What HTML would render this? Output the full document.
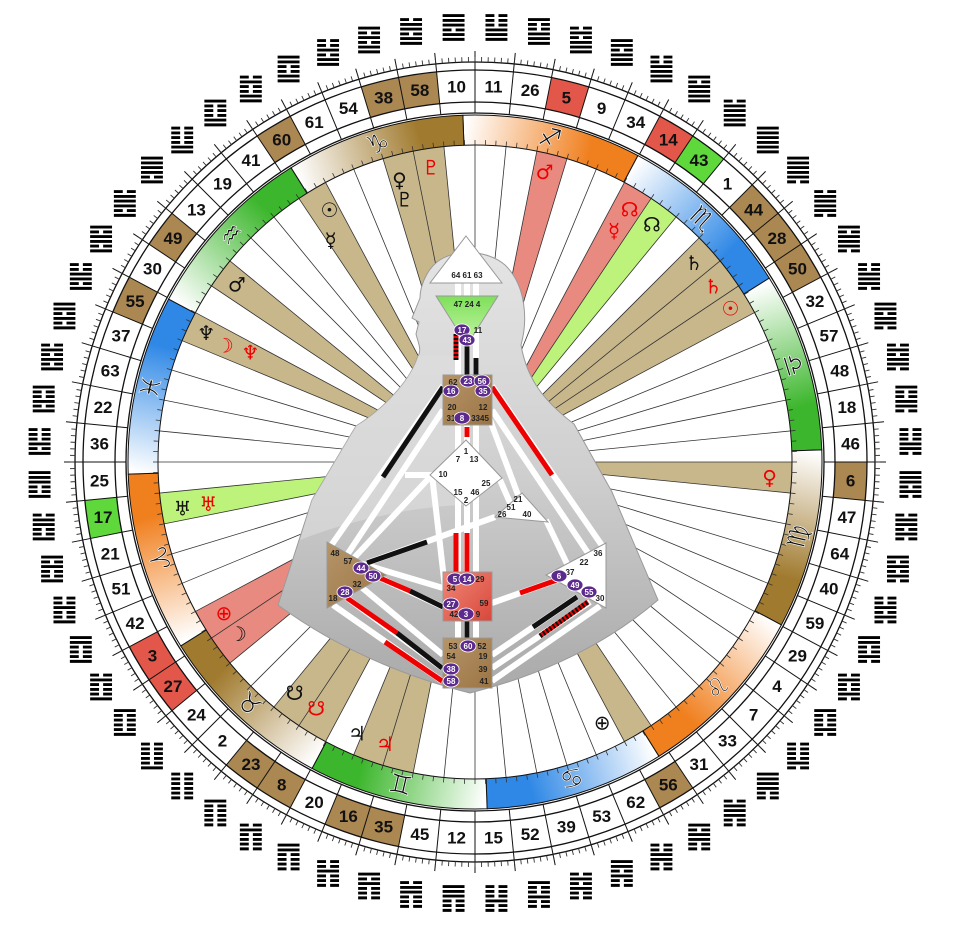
<!DOCTYPE html>
<html><head><meta charset="utf-8">
<style>
html,body{margin:0;padding:0;background:#fff;}
svg{display:block;}
text{font-family:"Liberation Sans","DejaVu Sans",sans-serif;}
.bt{font-size:8px;font-weight:bold;fill:#222;text-anchor:middle;}
.pt{font-size:8px;font-weight:bold;fill:#fff;text-anchor:middle;}
</style></head>
<body>
<svg id="s" width="953" height="939" viewBox="0 0 953 939" xmlns="http://www.w3.org/2000/svg">
<defs id="defs">
<linearGradient id="sil" x1="0" y1="0" x2="0" y2="1">
<stop offset="0" stop-color="#e4e4e4"/><stop offset="0.5" stop-color="#cfcfcf"/><stop offset="1" stop-color="#a9a9a9"/></linearGradient>
<linearGradient id="tanb" x1="0" y1="0" x2="1" y2="1"><stop offset="0" stop-color="#b59569"/><stop offset="1" stop-color="#9c7444"/></linearGradient>
<linearGradient id="redb" x1="0" y1="0" x2="1" y2="1"><stop offset="0" stop-color="#f08878"/><stop offset="1" stop-color="#d8473a"/></linearGradient>
<linearGradient id="grnb" x1="0" y1="0" x2="0" y2="1"><stop offset="0" stop-color="#7ee05a"/><stop offset="1" stop-color="#c8f5a8"/></linearGradient>
</defs>
<g id="ring"></g>
<g id="body">
<path d="M418,356 C410,382 382,410 356,426 L312,500 L278,605 Q360,665 470,693 Q582,665 658,600 L612,492 L574,424 C545,402 527,380 521,345 C528,320 526,285 505,265 C488,250 455,248 437,262 C425,272 420,288 420,298 L412,318 L419,322 L416,334 C418,342 422,350 418,356 Z" fill="url(#sil)" stroke="#9a9a9a" stroke-width="1"/>
<path d="M418,356 C410,382 382,410 356,426 L312,500 L300,540 C350,520 420,505 470,505 L470,356 Z" fill="#dedede" opacity="0.6"/>
<g stroke="#fff" stroke-width="6" fill="none">
<line x1="458" y1="283" x2="458" y2="298"/><line x1="467" y1="283" x2="467" y2="298"/><line x1="476" y1="283" x2="476" y2="298"/>
<line x1="458" y1="325" x2="458" y2="376"/><line x1="467" y1="340" x2="467" y2="376"/><line x1="476" y1="325" x2="476" y2="376"/>
<line x1="458" y1="424" x2="458" y2="462"/><line x1="467" y1="424" x2="467" y2="444"/><line x1="476" y1="424" x2="476" y2="462"/>
<line x1="458" y1="492" x2="458" y2="573"/><line x1="467" y1="503" x2="467" y2="573"/><line x1="476" y1="492" x2="476" y2="573"/>
<line x1="458" y1="620" x2="458" y2="639"/><line x1="467" y1="620" x2="467" y2="639"/><line x1="476" y1="620" x2="476" y2="639"/>
<line x1="443" y1="386" x2="330" y2="547"/><line x1="443" y1="410" x2="345" y2="558"/>
<line x1="492" y1="386" x2="603" y2="547"/><line x1="492" y1="410" x2="590" y2="556"/><line x1="490" y1="420" x2="518" y2="495"/>
<line x1="432" y1="475" x2="352" y2="560"/><line x1="432" y1="475" x2="445" y2="588"/><line x1="405" y1="475" x2="432" y2="475"/>
<line x1="495" y1="517" x2="367" y2="563"/><line x1="546" y1="520" x2="570" y2="570"/><line x1="500" y1="480" x2="511" y2="505"/>
<line x1="380" y1="578" x2="443" y2="607"/><line x1="360" y1="586" x2="443" y2="655"/><line x1="347" y1="598" x2="442" y2="668"/><line x1="333" y1="605" x2="442" y2="681"/><line x1="356" y1="562" x2="443" y2="588"/>
<line x1="492" y1="603" x2="557" y2="580"/><line x1="492" y1="655" x2="577" y2="597"/><line x1="492" y1="668" x2="590" y2="602"/><line x1="492" y1="681" x2="600" y2="606"/>
</g>
<g stroke-width="5" fill="none">
<line x1="456" y1="334" x2="456" y2="360" stroke="#e00"/><line x1="456" y1="334" x2="456" y2="360" stroke="#111" stroke-dasharray="2,2"/>
<line x1="467" y1="342" x2="467" y2="375" stroke="#111"/><line x1="476" y1="358" x2="476" y2="375" stroke="#111"/>
<line x1="467" y1="427" x2="467" y2="437" stroke="#e00"/>
<line x1="456" y1="533" x2="456" y2="572" stroke="#e00"/><line x1="467" y1="533" x2="467" y2="572" stroke="#e00"/>
<line x1="467" y1="621" x2="467" y2="638" stroke="#111"/>
<line x1="443" y1="387" x2="383" y2="477" stroke="#111"/>
<line x1="492" y1="387" x2="552" y2="475" stroke="#e00"/>
<line x1="427" y1="542" x2="367" y2="563" stroke="#111"/>
<line x1="380" y1="578" x2="410" y2="591" stroke="#e00"/><line x1="410" y1="591" x2="443" y2="607" stroke="#111"/>
<line x1="347" y1="598" x2="397" y2="633" stroke="#e00"/><line x1="397" y1="633" x2="442" y2="668" stroke="#111"/>
<line x1="385" y1="642" x2="442" y2="681" stroke="#e00"/>
<line x1="520" y1="593" x2="557" y2="580" stroke="#e00"/>
<line x1="533" y1="627" x2="577" y2="597" stroke="#111"/>
<line x1="540" y1="636" x2="588" y2="602" stroke="#e00"/><line x1="540" y1="636" x2="588" y2="602" stroke="#111" stroke-dasharray="2,2"/>
</g>
<polygon points="466,236 502,283 430,283" fill="#fff" stroke="#999"/>
<polygon points="436,296 498,296 467,345" fill="url(#grnb)" stroke="#999"/>
<rect x="443" y="375" width="49" height="50" fill="url(#tanb)" stroke="#999"/>
<polygon points="466,440 502,478 466,506 430,475" fill="#fff" stroke="#999"/>
<polygon points="495,517 522,493 548,522" fill="#fff" stroke="#999"/>
<rect x="443" y="572" width="49" height="49" fill="url(#redb)" stroke="#999"/>
<rect x="443" y="638" width="49" height="50" fill="url(#tanb)" stroke="#999"/>
<polygon points="327,542 386,575 327,608" fill="url(#tanb)" stroke="#999"/>
<polygon points="606,543 546,575 606,608" fill="#fff" stroke="#999"/>
<g class="bt">
<text x="467" y="278">64 61 63</text><text x="467" y="307">47 24 4</text><text x="478" y="333">11</text>
<text x="453" y="385">62</text><text x="452" y="410">20</text><text x="483" y="410">12</text><text x="451" y="421">31</text><text x="480" y="421">3345</text>
<text x="466" y="454">1</text><text x="458" y="462">7</text><text x="474" y="462">13</text><text x="443" y="477">10</text><text x="486" y="486">25</text><text x="458" y="495">15</text><text x="475" y="495">46</text><text x="466" y="503">2</text>
<text x="518" y="502">21</text><text x="511" y="510">51</text><text x="502" y="517">26</text><text x="527" y="517">40</text>
<text x="480" y="582">29</text><text x="451" y="591">34</text><text x="484" y="606">59</text><text x="454" y="617">42</text><text x="478" y="617">9</text>
<text x="453" y="649">53</text><text x="482" y="649">52</text><text x="451" y="659">54</text><text x="483" y="659">19</text><text x="483" y="672">39</text><text x="484" y="684">41</text>
<text x="335" y="556">48</text><text x="348" y="564">57</text><text x="357" y="587">32</text><text x="333" y="601">18</text>
<text x="598" y="556">36</text><text x="584" y="565">22</text><text x="570" y="575">37</text><text x="600" y="601">30</text>
</g>
<g id="pc"></g>
</g>
</svg>
<script>
(function(){
var NS="http://www.w3.org/2000/svg";
var cx=475,cy=462;
function P(r,a){var t=a*Math.PI/180;return [cx+r*Math.sin(t),cy-r*Math.cos(t)];}
function sector(r1,r2,a1,a2){var p1=P(r2,a1),p2=P(r2,a2),p3=P(r1,a2),p4=P(r1,a1);var l=(a2-a1)>180?1:0;
return "M"+p1[0]+","+p1[1]+"A"+r2+","+r2+" 0 "+l+" 1 "+p2[0]+","+p2[1]+"L"+p3[0]+","+p3[1]+"A"+r1+","+r1+" 0 "+l+" 0 "+p4[0]+","+p4[1]+"Z";}
var out=[];
function add(s){out.push(s);}
var gates=[11,26,5,9,34,14,43,1,44,28,50,32,57,48,18,46,6,47,64,40,59,29,4,7,33,31,56,62,53,39,52,15,12,45,35,16,20,8,23,2,24,27,3,42,51,21,17,25,36,22,63,37,55,30,49,13,19,41,60,61,54,38,58,10];
var W=5.625;
function ang(g){return 2.8125+gates.indexOf(g)*W;}
// wedges
var TAN="#c9b78c",RED="#e98a80",GRN="#bdf37a";
var wedges={58:TAN,38:TAN,60:TAN,49:TAN,55:TAN,17:GRN,27:RED,3:RED,8:TAN,23:TAN,16:TAN,35:TAN,56:TAN,6:TAN,50:TAN,28:TAN,44:TAN,43:GRN,14:RED,5:RED};
for(var g in wedges){var a=ang(+g);add('<path d="'+sector(0,317,a-W/2,a+W/2)+'" fill="'+wedges[g]+'"/>');}
// spokes
for(var i=0;i<64;i++){var a=i*W;var p=P(317,a);add('<line x1="'+cx+'" y1="'+cy+'" x2="'+p[0]+'" y2="'+p[1]+'" stroke="#333" stroke-width="0.8"/>');}
// zodiac
var signs=["\u2650","\u264F","\u264E","\u264D","\u264C","\u264B","\u264A","\u2649","\u2648","\u2653","\u2652","\u2651"];
var scol=["#f07f1e","#2f88e6","#3cb62c","#a07a2e"];
var defs=document.getElementById("defs");
for(var k=0;k<12;k++){var a1=-2+30*k,a2=a1+30;var c=scol[k%4];
var s=P(331,a1),e=P(331,a2);
var lg=document.createElementNS(NS,"linearGradient");lg.setAttribute("id","zg"+k);lg.setAttribute("gradientUnits","userSpaceOnUse");
lg.setAttribute("x1",s[0]);lg.setAttribute("y1",s[1]);lg.setAttribute("x2",e[0]);lg.setAttribute("y2",e[1]);
lg.innerHTML='<stop offset="0" stop-color="#fff"/><stop offset="0.75" stop-color="'+c+'"/><stop offset="1" stop-color="'+c+'"/>';
defs.appendChild(lg);
add('<path d="'+sector(317,347,a1,a2)+'" fill="url(#zg'+k+')" stroke="#111" stroke-width="1"/>');
var m=a1+15,pp=P(332,m);var rot=(m>90&&m<270)?m-180:m;
add('<text x="'+pp[0]+'" y="'+pp[1]+'" transform="rotate('+rot+' '+pp[0]+' '+pp[1]+')" font-size="26" font-weight="bold" text-anchor="middle" dominant-baseline="central" fill="#111" stroke="#fff" stroke-width="0.6" style="font-family:DejaVu Sans,sans-serif">'+signs[k]+'\uFE0E</text>');}
// inner ticks on zodiac
for(var t=0;t<192;t++){var a=t*1.875;var p1=P(317,a),p2=P(322,a);add('<line x1="'+p1[0]+'" y1="'+p1[1]+'" x2="'+p2[0]+'" y2="'+p2[1]+'" stroke="#333" stroke-width="0.8"/>');}
// number cells
var cellc={5:"#e2574a",14:"#e2574a",27:"#e2574a",3:"#e2574a",43:"#5fd83c",17:"#5fd83c"};
var tanc=[44,28,50,6,56,35,16,23,8,55,49,60,38,58];
tanc.forEach(function(g){cellc[g]="#ab8752";});
for(var i=0;i<64;i++){var g=gates[i],a=2.8125+i*W;
if(cellc[g]){add('<path d="'+sector(360,392,a-W/2,a+W/2)+'" fill="'+cellc[g]+'"/>');}
var p=P(376,a);add('<text x="'+p[0]+'" y="'+(p[1]+6)+'" font-size="17" font-weight="bold" text-anchor="middle" fill="#111">'+g+'</text>');
var h=P(436,a);add('<text x="'+h[0]+'" y="'+h[1]+'" font-size="30" text-anchor="middle" dominant-baseline="central" fill="#000" style="font-family:DejaVu Sans,sans-serif">'+String.fromCodePoint(0x4DC0+g-1)+'</text>');}
// boundaries
for(var i=0;i<64;i++){var a=i*W;var p1=P(349,a),p2=P(411,a);add('<line x1="'+p1[0]+'" y1="'+p1[1]+'" x2="'+p2[0]+'" y2="'+p2[1]+'" stroke="#111" stroke-width="1"/>');}
[349,360,392,400].forEach(function(r){add('<circle cx="'+cx+'" cy="'+cy+'" r="'+r+'" fill="none" stroke="#111" stroke-width="1.3"/>');});
for(var t=0;t<384;t++){var a=t*W/6;var p1=P(400,a),p2=P(405,a);add('<line x1="'+p1[0]+'" y1="'+p1[1]+'" x2="'+p2[0]+'" y2="'+p2[1]+'" stroke="#333" stroke-width="0.9"/>');}
// planets
var pl=[["\u2609","#111",330,291],["\u263F","#111",327,265],["\u2640","#111",345,292],["\u2647","#111",345,272],["\u2647","#e00",351.5,298],
["\u2642","#e00",13.5,298],["\u260A","#e00",31.5,296],["\u263F","#e00",31,270],["\u260A","#111",36.7,296],
["\u2644","#111",47.7,296],["\u2644","#e00",53.6,296],["\u2609","#e00",59,298],["\u2640","#e00",93,295],["\u2295","#111",154,290],
["\u2643","#111",203.5,296],["\u2643","#e00",197.7,296],["\u260B","#111",218,293],["\u260B","#e00",212.8,293],
["\u263D","#111",234,293],["\u2295","#e00",239,293],["\u2645","#111",261,296],["\u2645","#e00",261,270],
["\u2646","#111",295.6,298],["\u263D","#e00",295,276],["\u2646","#e00",296,250],["\u2642","#111",306.7,297]];
pl.forEach(function(q){var p=P(q[3],q[2]);add('<text x="'+p[0]+'" y="'+p[1]+'" font-size="20" text-anchor="middle" dominant-baseline="central" fill="'+q[1]+'" style="font-family:DejaVu Sans,sans-serif">'+q[0]+'\uFE0E</text>');});
document.getElementById("ring").innerHTML=out.join("");
// purple circles
var pc=[[17,462,330],[43,467,340],[23,468,381],[56,482,381],[16,451,391],[35,483,391],[8,462,418],[5,455,579],[14,467,579],[27,451,604],[3,466,614],[60,468,646],[38,451,669],[58,451,681],[44,361,568],[50,373,576],[28,345,592],[6,559,576],[49,575,585],[55,589,592]];
var o2=[];pc.forEach(function(c){o2.push('<ellipse cx="'+c[1]+'" cy="'+c[2]+'" rx="8" ry="6" fill="#5b2a8c" stroke="#fff" stroke-width="0.8"/><text class="pt" x="'+c[1]+'" y="'+(c[2]+3)+'">'+c[0]+'</text>');});
document.getElementById("pc").innerHTML=o2.join("");
})();
</script>
</body></html>
